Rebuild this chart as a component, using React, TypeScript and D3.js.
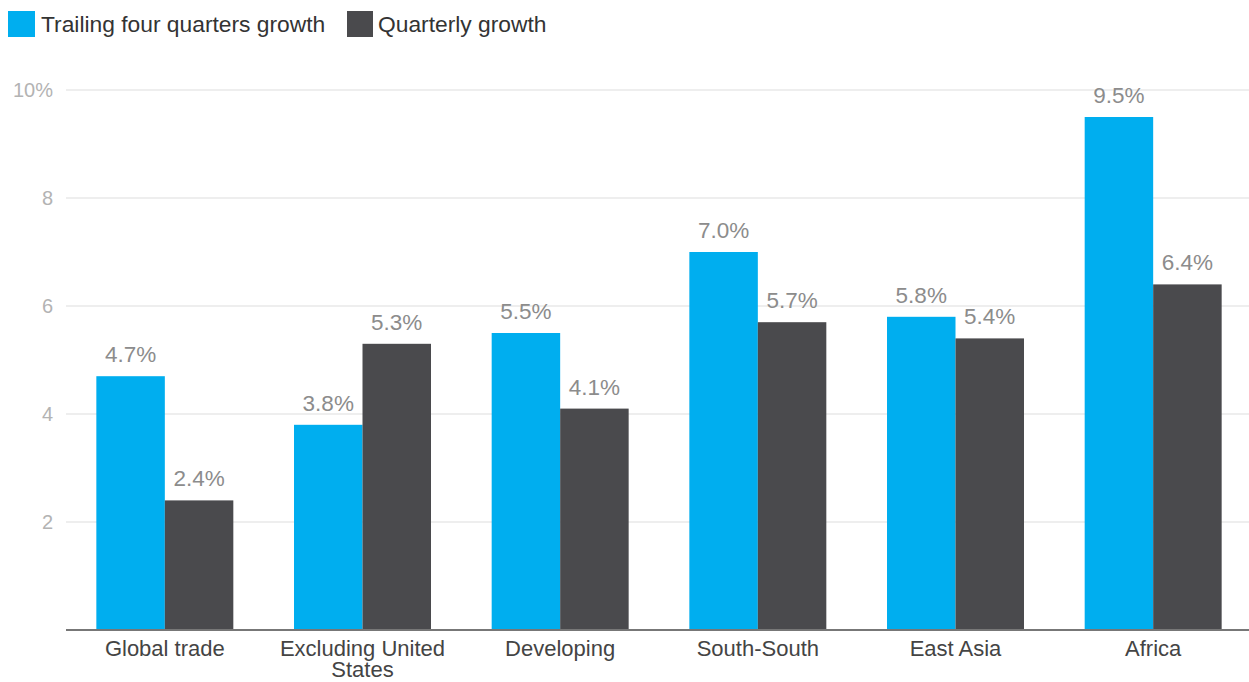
import React from "react";
import * as d3 from "d3";

const categories = ["Global trade", "Excluding United States", "Developing", "South-South", "East Asia", "Africa"];
const trailing = [4.7, 3.8, 5.5, 7.0, 5.8, 9.5];
const quarterly = [2.4, 5.3, 4.1, 5.7, 5.4, 6.4];
const seriesNames = ["Trailing four quarters growth", "Quarterly growth"];
const seriesColors = ["#00AEEF", "#4A4A4D"];
const yTicks = [2, 4, 6, 8, 10];

const W = 1249;
const H = 682;
const FONT = "'Liberation Sans', Arial, Helvetica, sans-serif";

export default function App() {
  const left = 66;
  const baseY = 630;
  const x0 = d3.scaleBand<string>().domain(categories).range([left, 1252]).paddingInner(0.307).paddingOuter(0.1535);
  const x1 = d3.scaleBand<string>().domain(["a", "b"]).range([0, x0.bandwidth()]).padding(0);
  const y = d3.scaleLinear().domain([0, 10]).range([baseY, 90]);
  const series = [trailing, quarterly];

  const wrap = (s: string) => (s === "Excluding United States" ? ["Excluding United", "States"] : [s]);

  return (
    <svg width={W} height={H} style={{ position: "absolute", left: 0, top: 0, background: "#fff" }} fontFamily={FONT}>
      {/* legend */}
      <rect x={8} y={11} width={27} height={26} fill={seriesColors[0]} />
      <text x={41} y={32} fontSize={22.8} fill="#333">{seriesNames[0]}</text>
      <rect x={347} y={11} width={26} height={26} fill={seriesColors[1]} />
      <text x={378} y={32} fontSize={22.8} fill="#333">{seriesNames[1]}</text>

      {/* grid */}
      {yTicks.map((t) => (
        <g key={t}>
          <line x1={left} x2={W} y1={y(t)} y2={y(t)} stroke="#e8e8e8" strokeWidth={1.5} />
          <text x={53} y={y(t)} dy="0.36em" textAnchor="end" fontSize={20} fill="#b3b3b3">
            {t === 10 ? "10%" : t}
          </text>
        </g>
      ))}

      {/* bars */}
      {categories.map((c, i) => (
        <g key={c} transform={`translate(${x0(c)},0)`}>
          {series.map((s, j) => {
            const key = j === 0 ? "a" : "b";
            const bx = x1(key)!;
            const v = s[i];
            return (
              <g key={j}>
                <rect x={bx} y={y(v)} width={x1.bandwidth()} height={baseY - y(v)} fill={seriesColors[j]} />
                <text x={bx + x1.bandwidth() / 2} y={y(v) - 14} textAnchor="middle" fontSize={22.5} fill="#8c8c8c">
                  {v.toFixed(1)}%
                </text>
              </g>
            );
          })}
          {wrap(c).map((line, k) => (
            <text key={k} x={x0.bandwidth() / 2} y={656 + k * 21} textAnchor="middle" fontSize={22} fill="#444">
              {line}
            </text>
          ))}
        </g>
      ))}

      {/* axis */}
      <line x1={left} x2={W} y1={baseY} y2={baseY} stroke="#777" strokeWidth={2} />
    </svg>
  );
}
